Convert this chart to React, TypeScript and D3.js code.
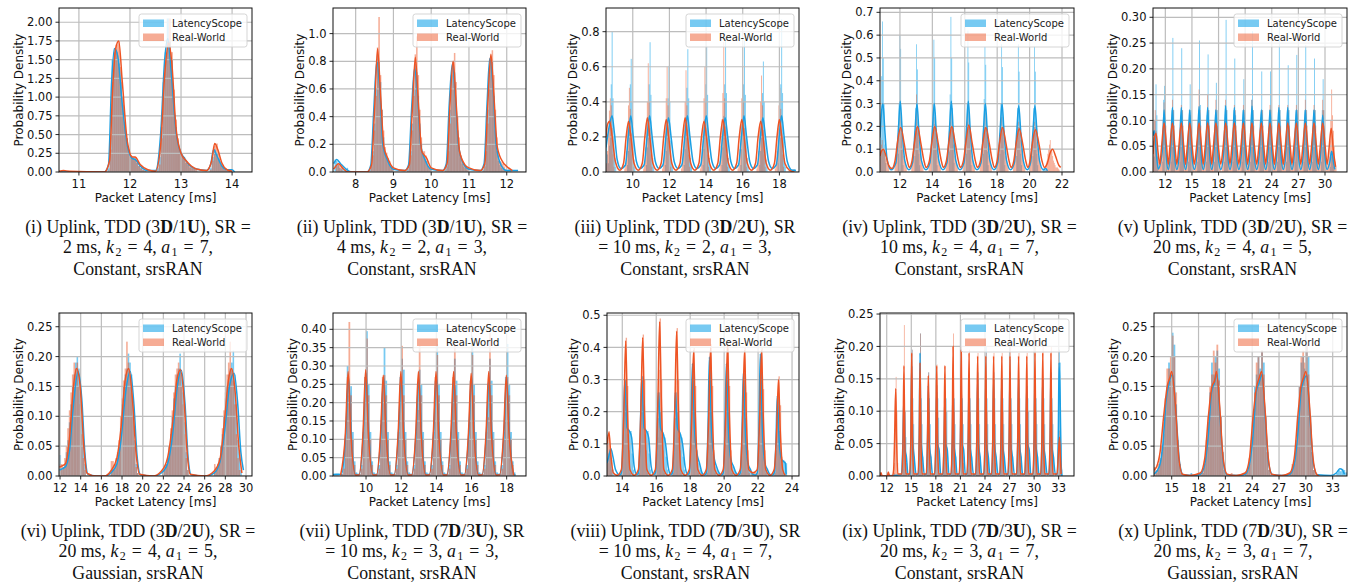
import React from 'react';
import * as d3 from 'd3';

// bars: [startX, h0, h1, ...] with panel bin width; kde: flat [x0, y0, x1, y1, ...]
type Cluster = number[];

const LS_FILL = '#1ca6ea';
const RW_FILL = '#ee5a2c';
const LS_LINE = '#1a9fe3';
const RW_LINE = '#ee5424';
const SANS = 'DejaVu Sans, Verdana, sans-serif';
const SERIF = 'Liberation Serif, Times New Roman, serif';

const seriesNames = ['LatencyScope', 'Real-World'];

// ---------------- (i)
const p1XTicks = [11, 12, 13, 14];
const p1YTicks = [0, 0.25, 0.5, 0.75, 1, 1.25, 1.5, 1.75, 2];
const p1LsBars: Cluster[] = [
  [11.56, .05, .5, 1.5, 1.65, 1.6, 1.45, 1.2, .9, .6, .45, .3, .2, .18, .17, .12, .08, .05, .03, .02],
  [12.52, .05, .2, .6, 1.2, 1.6, 2.05, 1.75, 1.5, 1.0, .6, .4, .3, .22, .2, .12, .1, .06, .05, .04, .02],
  [13.56, .05, .2, .3, .25, .18, .1, .06, .03, .02, .02, .03],
];
const p1RwBars: Cluster[] = [
  [10.64, .02, 0, 0, .02],
  [11.56, .02, .3, 1.2, 1.6, 1.7, 1.75, 1.4, 1.0, .65, .45, .3, .2, .2, .2, .15, .08, .05, .03, .02],
  [12.52, .02, .1, .45, 1.0, 1.5, 1.75, 2.05, 1.6, 1.1, .7, .45, .3, .25, .2, .15, .12, .08, .08, .05, .03],
  [13.56, .03, .15, .35, .38, .25, .15, .08, .04, .02, .01],
];
const p1LsKde = [10.61, 0, 11.5, 0, 11.58, .1, 11.64, 1.2, 11.7, 1.65, 11.76, 1.55, 11.85, .9, 11.95, .35, 12.05, .18, 12.1, .17, 12.2, .08, 12.35, .02, 12.5, .02, 12.6, .5, 12.68, 1.5, 12.74, 1.78, 12.8, 1.4, 12.9, .55, 13.0, .25, 13.05, .2, 13.15, .1, 13.3, .04, 13.5, .02, 13.58, .1, 13.64, .3, 13.7, .22, 13.8, .08, 13.9, .03, 14.0, .03, 14.05, 0];
const p1RwKde = [10.61, .01, 10.7, .02, 10.8, .01, 11.5, 0, 11.6, .15, 11.66, 1.1, 11.72, 1.65, 11.78, 1.75, 11.85, 1.2, 11.95, .4, 12.05, .2, 12.1, .2, 12.2, .1, 12.35, .03, 12.5, .01, 12.6, .35, 12.68, 1.3, 12.76, 1.72, 12.82, 1.45, 12.9, .6, 13.0, .25, 13.1, .15, 13.2, .08, 13.3, .04, 13.5, .02, 13.6, .15, 13.66, .38, 13.72, .3, 13.8, .12, 13.9, .03, 14.0, .01];

// ---------------- (ii)
const p2XTicks = [8, 9, 10, 11, 12];
const p2YTicks = [0, 0.2, 0.4, 0.6, 0.8, 1.0];
const p2LsBars: Cluster[] = [
  [7.44, .09, .08, .05, .03, .02, .03, .01, .02, .03],
  [8.36, .02, .05, .15, .35, .6, .85, .8, .65, .45, .25, .15, .1, .08, .06, .04, .02],
  [9.36, .02, .05, .15, .35, .6, .78, .72, .55, .35, .2, .12, .1, .08, .05, .03, .02],
  [10.36, .02, .06, .2, .45, .7, .8, .72, .5, .3, .18, .1, .06, .04, .03, .02, .01],
  [11.36, .02, .06, .2, .45, .7, .84, .8, .55, .3, .15, .08, .05, .03, .02, .02, .01, .01, .02, .01],
];
const p2RwBars: Cluster[] = [
  [7.48, .04, .06, .05, .03, .01],
  [8.36, .01, .04, .12, .3, .55, .9, 1.12, .7, .45, .3, .18, .14, .1, .08, .05, .02],
  [9.36, .01, .04, .12, .3, .55, .85, .98, .7, .45, .25, .15, .15, .12, .08, .04, .02],
  [10.36, .01, .04, .15, .35, .6, .8, .86, .65, .4, .25, .12, .08, .06, .05, .03, .02],
  [11.36, .01, .04, .15, .35, .6, .82, .88, .7, .45, .25, .12, .08, .07, .06, .04, .02],
];
const p2LsKde = [7.42, .06, 7.5, .09, 7.6, .06, 7.75, .02, 7.9, 0, 8.3, 0, 8.4, .05, 8.48, .45, 8.56, .8, 8.64, .6, 8.72, .2, 8.85, .08, 9.0, .02, 9.3, .01, 9.4, .05, 9.48, .45, 9.56, .75, 9.64, .55, 9.72, .2, 9.85, .08, 10.0, .02, 10.3, .01, 10.4, .06, 10.48, .5, 10.56, .78, 10.64, .55, 10.72, .2, 10.85, .06, 11.0, .02, 11.3, .01, 11.4, .06, 11.48, .5, 11.55, .82, 11.64, .6, 11.72, .2, 11.85, .05, 12.0, .01, 12.3, .01];
const p2RwKde = [7.42, .02, 7.55, .06, 7.65, .03, 7.8, 0, 8.3, 0, 8.42, .05, 8.5, .45, 8.58, .89, 8.66, .55, 8.75, .18, 8.85, .1, 9.0, .03, 9.3, .01, 9.42, .05, 9.5, .45, 9.58, .83, 9.66, .5, 9.75, .15, 9.88, .1, 10.0, .03, 10.3, .01, 10.42, .06, 10.5, .5, 10.58, .8, 10.66, .5, 10.75, .15, 10.9, .05, 11.0, .03, 11.3, .01, 11.42, .06, 11.5, .5, 11.58, .85, 11.66, .55, 11.75, .18, 11.9, .07, 12.0, .04, 12.15, .01];

// ---------------- (iii)
const p3XTicks = [10, 12, 14, 16, 18];
const p3YTicks = [0, 0.2, 0.4, 0.6, 0.8];
const p3LsBars: Cluster[] = [
  [8.55, .2, .1],
  [8.65, .05, .15, .3, .5, .8, .42, .2, .08, .03],
  [9.69, .04, .12, .28, .5, .645, .4, .18, .07, .03],
  [10.72, .04, .14, .3, .5, .74, .44, .2, .08, .03],
  [11.75, .04, .12, .28, .42, .605, .4, .18, .07, .03],
  [12.78, .04, .13, .3, .48, .7, .42, .2, .08, .03],
  [13.81, .04, .13, .3, .5, .72, .44, .2, .08, .03],
  [14.84, .04, .14, .32, .5, .77, .45, .2, .08, .03],
  [15.87, .04, .13, .3, .5, .75, .44, .2, .08, .03],
  [16.9, .04, .12, .28, .45, .63, .4, .18, .07, .03],
  [17.9, .05, .15, .32, .5, .87, .45, .2, .08, .03],
  [18.6, .015, .01, .015, .01, .015, .01],
];
const p3RwBars: Cluster[] = [
  [8.5, .02, .05, .12, .25, .35, .42, .38, .25, .1, .03],
  [9.54, .02, .05, .12, .25, .38, .48, .36, .22, .1, .03],
  [10.57, .02, .05, .14, .28, .4, .62, .4, .25, .1, .03],
  [11.6, .02, .05, .13, .27, .42, .6, .38, .24, .1, .03],
  [12.63, .02, .05, .13, .27, .4, .58, .38, .24, .1, .03],
  [13.66, .02, .05, .13, .27, .42, .6, .4, .25, .1, .03],
  [14.69, .02, .06, .15, .3, .45, .74, .42, .26, .1, .03],
  [15.72, .02, .05, .13, .27, .42, .6, .4, .25, .1, .03],
  [16.75, .02, .05, .12, .26, .4, .55, .38, .24, .1, .03],
  [17.75, .02, .05, .12, .25, .38, .48, .36, .22, .1, .03],
  [18.5, .01, .01, .015, .01, .01, .015, .01],
];
const p3LsKde = [8.54, .14, 8.7, .25, 8.87, .32, 9.0, .22, 9.15, .07, 9.35, .02, 9.6, .04, 9.75, .2, 9.89, .32, 10.03, .2, 10.2, .06, 10.4, .02, 10.62, .04, 10.78, .2, 10.92, .32, 11.06, .2, 11.23, .06, 11.43, .02, 11.65, .04, 11.81, .2, 11.95, .31, 12.09, .2, 12.26, .06, 12.46, .02, 12.68, .04, 12.84, .2, 12.98, .32, 13.12, .2, 13.29, .06, 13.49, .02, 13.71, .04, 13.87, .2, 14.01, .32, 14.15, .2, 14.32, .06, 14.52, .02, 14.74, .04, 14.9, .2, 15.04, .31, 15.18, .2, 15.35, .06, 15.55, .02, 15.77, .04, 15.93, .2, 16.07, .32, 16.21, .2, 16.38, .06, 16.58, .02, 16.8, .04, 16.96, .2, 17.1, .31, 17.24, .2, 17.41, .06, 17.61, .02, 17.83, .04, 17.99, .2, 18.12, .32, 18.26, .2, 18.43, .06, 18.7, .01, 18.9, .01];
const p3RwKde = [8.54, .2, 8.62, .27, 8.74, .29, 8.88, .2, 9.05, .06, 9.3, .01, 9.5, .05, 9.64, .2, 9.77, .29, 9.9, .2, 10.07, .05, 10.3, .01, 10.52, .05, 10.66, .2, 10.8, .31, 10.93, .2, 11.1, .05, 11.33, .01, 11.55, .05, 11.69, .2, 11.83, .3, 11.96, .2, 12.13, .05, 12.36, .01, 12.58, .05, 12.72, .2, 12.86, .31, 12.99, .2, 13.16, .05, 13.39, .01, 13.61, .05, 13.75, .2, 13.89, .29, 14.02, .2, 14.19, .05, 14.42, .01, 14.64, .05, 14.78, .2, 14.92, .3, 15.05, .2, 15.22, .05, 15.45, .01, 15.67, .05, 15.81, .2, 15.95, .3, 16.08, .2, 16.25, .05, 16.48, .01, 16.7, .05, 16.84, .2, 16.98, .29, 17.11, .2, 17.28, .05, 17.51, .01, 17.73, .05, 17.87, .2, 18.0, .3, 18.13, .2, 18.3, .05, 18.55, .01, 18.8, 0];

// ---------------- (iv)
const p4XTicks = [12, 14, 16, 18, 20, 22];
const p4YTicks = [0, 0.1, 0.2, 0.3, 0.4, 0.5, 0.6, 0.7];
const p4LsBars: Cluster[] = [
  [10.8, .15, .42, .66, .5, .3, .12, .04],
  [11.87, .08, .3, .6, .54, .25, .1, .03],
  [12.9, .07, .28, .56, .45, .22, .08, .03],
  [13.97, .08, .3, .58, .5, .26, .1, .03],
  [15.02, .09, .34, .68, .5, .28, .12, .04],
  [16.07, .08, .3, .62, .48, .25, .1, .03],
  [17.12, .08, .32, .55, .47, .25, .09, .03],
  [18.15, .08, .3, .56, .46, .24, .09, .03],
  [19.18, .07, .28, .56, .44, .22, .08, .03],
  [20.18, .07, .28, .55, .44, .22, .08, .03],
  [20.8, .01, .015, .02, .01],
];
const p4RwBars: Cluster[] = [
  [10.78, .1, .12, .14, .1, .09, .08, .06, .05, .04, .03, .02],
  [11.67, .03, .05, .08, .12, .17, .2, .24, .2, .17, .14, .1, .07, .05, .03, .02],
  [12.7, .03, .05, .08, .12, .18, .22, .34, .2, .17, .14, .1, .07, .05, .03, .02],
  [13.77, .03, .05, .08, .12, .17, .2, .24, .21, .17, .14, .1, .07, .05, .03, .02],
  [14.82, .03, .05, .08, .13, .18, .22, .26, .2, .18, .14, .1, .07, .05, .03, .02],
  [15.87, .03, .05, .08, .13, .18, .22, .3, .21, .18, .14, .1, .07, .05, .03, .02],
  [16.92, .03, .05, .08, .12, .17, .2, .26, .2, .17, .14, .1, .07, .05, .03, .02],
  [17.95, .03, .05, .08, .12, .17, .2, .24, .2, .17, .14, .1, .07, .05, .03, .02],
  [18.98, .03, .05, .08, .12, .17, .2, .22, .2, .17, .14, .1, .07, .05, .03, .02],
  [19.98, .03, .05, .08, .12, .16, .19, .22, .2, .17, .13, .1, .07, .05, .03, .02],
  [21.0, .03, .05, .08, .1, .12, .14, .1, .09, .07, .05, .04, .03, .02, .02, .02, .015, .01],
];
const p4LsKde = [10.77, .15, 10.85, .25, 10.95, .3, 11.07, .18, 11.2, .06, 11.45, .01, 11.75, .04, 11.9, .18, 12.02, .31, 12.14, .18, 12.3, .05, 12.55, .01, 12.78, .04, 12.93, .18, 13.05, .3, 13.17, .18, 13.33, .05, 13.6, .01, 13.85, .04, 14.0, .18, 14.12, .3, 14.24, .18, 14.4, .05, 14.65, .01, 14.9, .04, 15.05, .18, 15.17, .31, 15.29, .18, 15.45, .05, 15.7, .01, 15.95, .04, 16.1, .18, 16.22, .31, 16.34, .18, 16.5, .05, 16.75, .01, 17.0, .04, 17.15, .18, 17.27, .3, 17.39, .18, 17.55, .05, 17.8, .01, 18.03, .04, 18.18, .18, 18.3, .3, 18.42, .18, 18.58, .05, 18.82, .01, 19.06, .04, 19.21, .18, 19.33, .29, 19.45, .18, 19.61, .05, 19.85, .01, 20.06, .04, 20.21, .18, 20.33, .29, 20.45, .18, 20.61, .05, 20.85, .01, 21.0, .015, 21.1, .005];
const p4RwKde = [10.77, .07, 10.85, .09, 10.97, .1, 11.1, .08, 11.3, .03, 11.5, .015, 11.7, .05, 11.85, .13, 12.05, .195, 12.25, .13, 12.45, .05, 12.58, .02, 12.75, .05, 12.9, .13, 13.08, .2, 13.28, .13, 13.48, .05, 13.62, .02, 13.82, .05, 13.97, .13, 14.15, .2, 14.35, .13, 14.55, .05, 14.68, .02, 14.87, .05, 15.02, .13, 15.2, .2, 15.4, .13, 15.6, .05, 15.73, .02, 15.92, .05, 16.07, .13, 16.25, .205, 16.45, .13, 16.65, .05, 16.78, .02, 16.97, .05, 17.12, .13, 17.3, .195, 17.5, .13, 17.7, .05, 17.83, .02, 18.0, .05, 18.15, .13, 18.33, .195, 18.53, .13, 18.73, .05, 18.86, .02, 19.03, .05, 19.18, .13, 19.36, .19, 19.56, .13, 19.76, .05, 19.89, .02, 20.03, .05, 20.18, .13, 20.36, .185, 20.56, .13, 20.76, .05, 20.92, .02, 21.1, .04, 21.25, .08, 21.42, .1, 21.6, .07, 21.8, .03, 21.92, .02];

// ---------------- (v)
const p5XTicks = [12, 15, 18, 21, 24, 27, 30];
const p5YTicks = [0, 0.05, 0.1, 0.15, 0.2, 0.25, 0.3];
const p5LsBars: Cluster[] = [
  [10.7, .03, .1, .17, .11, .03], [11.66, .02, .14, .167, .1, .03], [12.6, .02, .12, .26, .12, .03],
  [13.6, .02, .11, .24, .12, .03], [14.55, .02, .12, .17, .12, .03], [15.6, .02, .12, .255, .13, .03],
  [16.57, .02, .11, .228, .12, .03], [17.5, .02, .12, .173, .12, .03], [18.6, .02, .13, .295, .12, .03],
  [19.58, .02, .12, .22, .11, .03], [20.6, .02, .12, .18, .12, .03], [21.57, .02, .14, .273, .12, .03],
  [22.62, .02, .1, .195, .12, .03], [23.6, .02, .12, .195, .12, .03], [24.6, .02, .12, .29, .12, .03],
  [25.6, .02, .12, .207, .12, .03], [26.57, .02, .12, .227, .12, .03], [27.58, .02, .12, .246, .12, .03],
  [28.56, .02, .12, .22, .12, .03], [29.54, .02, .12, .18, .12, .03], [30.55, .01, .03, .04, .03, .01],
];
const p5RwBars: Cluster[] = [
  [10.61, .06, .1, .12, .08, .05, .03, .02, .015],
  [11.41, .015, .03, .06, .1, .135, .12, .09, .05, .025, .015],
  [12.35, .015, .03, .06, .1, .14, .12, .09, .05, .025, .015],
  [13.35, .015, .03, .06, .1, .13, .12, .09, .05, .025, .015],
  [14.3, .015, .03, .06, .1, .12, .11, .09, .05, .025, .015],
  [15.35, .015, .03, .06, .1, .16, .12, .09, .05, .025, .015],
  [16.32, .015, .03, .06, .1, .15, .12, .09, .05, .025, .015],
  [17.25, .015, .03, .06, .1, .14, .12, .09, .05, .025, .015],
  [18.35, .015, .03, .06, .1, .14, .12, .09, .05, .025, .015],
  [19.33, .015, .03, .06, .1, .13, .12, .09, .05, .025, .015],
  [20.35, .015, .03, .06, .1, .13, .12, .09, .05, .025, .015],
  [21.32, .015, .03, .06, .1, .14, .12, .09, .05, .025, .015],
  [22.37, .015, .03, .06, .1, .12, .12, .09, .05, .025, .015],
  [23.35, .015, .03, .06, .1, .13, .12, .09, .05, .025, .015],
  [24.35, .015, .03, .06, .1, .13, .12, .09, .05, .025, .015],
  [25.35, .015, .03, .06, .1, .13, .12, .09, .05, .025, .015],
  [26.32, .015, .03, .06, .1, .13, .12, .09, .05, .025, .015],
  [27.33, .015, .03, .06, .1, .14, .12, .09, .05, .025, .015],
  [28.31, .015, .03, .06, .1, .13, .12, .09, .05, .025, .015],
  [29.29, .015, .03, .06, .1, .14, .12, .09, .05, .025, .015],
  [30.3, .015, .03, .06, .1, .16, .11, .08, .05, .02, .01],
];
const p5LsKde = [10.61, .07, 10.75, .08, 10.92, .05, 11.2, .006, 11.65, .04, 11.86, .12, 12.07, .04, 12.33, .005, 12.59, .04, 12.8, .125, 13.01, .04, 13.3, .005, 13.59, .04, 13.8, .125, 14.01, .04, 14.28, .005, 14.54, .04, 14.75, .12, 14.96, .04, 15.27, .005, 15.59, .04, 15.8, .127, 16.01, .04, 16.28, .005, 16.56, .04, 16.77, .125, 16.98, .04, 17.23, .005, 17.49, .04, 17.7, .12, 17.91, .04, 18.25, .005, 18.59, .04, 18.8, .128, 19.01, .04, 19.29, .005, 19.57, .04, 19.78, .125, 19.99, .04, 20.29, .005, 20.59, .04, 20.8, .12, 21.01, .04, 21.28, .005, 21.56, .04, 21.77, .128, 21.98, .04, 22.3, .005, 22.61, .04, 22.82, .12, 23.03, .04, 23.31, .005, 23.59, .04, 23.8, .12, 24.01, .04, 24.3, .005, 24.59, .04, 24.8, .125, 25.01, .04, 25.3, .005, 25.59, .04, 25.8, .125, 26.01, .04, 26.28, .005, 26.56, .04, 26.77, .12, 26.98, .04, 27.27, .005, 27.57, .04, 27.78, .12, 27.99, .04, 28.27, .005, 28.55, .04, 28.76, .12, 28.97, .04, 29.25, .005, 29.53, .04, 29.74, .11, 29.95, .04, 30.24, .005, 30.55, .02, 30.75, .04, 30.95, .02, 31.1, .005];
const p5RwKde = [10.61, .035, 10.8, .07, 10.95, .075, 11.2, .035, 11.38, .015, 11.56, .045, 11.86, .095, 12.16, .045, 12.33, .015, 12.5, .045, 12.8, .095, 13.1, .045, 13.3, .015, 13.5, .045, 13.8, .095, 14.1, .045, 14.28, .015, 14.45, .045, 14.75, .095, 15.05, .045, 15.27, .015, 15.5, .045, 15.8, .095, 16.1, .045, 16.28, .015, 16.47, .045, 16.77, .095, 17.07, .045, 17.23, .015, 17.4, .045, 17.7, .095, 18.0, .045, 18.25, .015, 18.5, .045, 18.8, .095, 19.1, .045, 19.29, .015, 19.48, .045, 19.78, .095, 20.08, .045, 20.29, .015, 20.5, .045, 20.8, .095, 21.1, .045, 21.28, .015, 21.47, .045, 21.77, .095, 22.07, .045, 22.3, .015, 22.52, .045, 22.82, .095, 23.12, .045, 23.31, .015, 23.5, .045, 23.8, .095, 24.1, .045, 24.3, .015, 24.5, .045, 24.8, .095, 25.1, .045, 25.3, .015, 25.5, .045, 25.8, .095, 26.1, .045, 26.28, .015, 26.47, .045, 26.77, .095, 27.07, .045, 27.27, .015, 27.48, .045, 27.78, .095, 28.08, .045, 28.27, .015, 28.46, .045, 28.76, .095, 29.06, .045, 29.25, .015, 29.44, .045, 29.74, .095, 30.04, .045, 30.24, .015, 30.45, .045, 30.7, .085, 30.95, .04, 31.2, .01];

// ---------------- (vi)
const p6XTicks = [12, 14, 16, 18, 20, 22, 24, 26, 28, 30];
const p6YTicks = [0, 0.05, 0.1, 0.15, 0.2, 0.25];
const p6LsBars: Cluster[] = [
  [11.95, .035, .01, .015, .02, .04, .06, .09, .12, .15, .17, .19, .2, .18, .14, .1, .05, .02],
  [16.9, .005, .01, .01, .02, .03, .05, .08, .12, .15, .17, .18, .205, .19, .17, .12, .06, .02, .005],
  [21.9, .005, .01, .02, .03, .05, .07, .1, .13, .15, .17, .18, .205, .17, .14, .09, .04, .01],
  [26.9, .005, .01, .015, .03, .05, .07, .1, .13, .15, .17, .18, .19, .21, .17, .12, .06, .04, .01],
];
const p6RwBars: Cluster[] = [
  [11.95, .02, .02, .015, .03, .05, .08, .11, .14, .17, .19, .18, .19, .15, .12, .07, .03, .01],
  [16.9, .025, .025, .02, .03, .04, .06, .1, .13, .16, .18, .225, .19, .17, .14, .1, .05, .015, .005],
  [21.9, .01, .015, .02, .03, .05, .08, .11, .14, .17, .18, .19, .18, .15, .12, .07, .03, .01],
  [26.9, .02, .015, .02, .03, .05, .08, .11, .14, .17, .19, .225, .18, .16, .12, .07, .03, .01],
];
const p6LsKde = [11.95, .01, 12.5, .015, 12.9, .04, 13.3, .12, 13.75, .175, 14.1, .13, 14.4, .04, 14.7, .003, 15.5, 0, 16.3, 0, 16.9, .005, 17.5, .02, 17.9, .06, 18.35, .14, 18.8, .175, 19.15, .12, 19.45, .035, 19.8, .002, 21, 0, 21.8, .005, 22.4, .02, 22.9, .07, 23.35, .15, 23.75, .177, 24.1, .12, 24.4, .03, 24.7, .002, 26, 0, 26.9, .005, 27.5, .025, 27.9, .07, 28.4, .15, 28.85, .172, 29.2, .12, 29.5, .04, 29.75, .01];
const p6RwKde = [11.95, .015, 12.5, .02, 12.9, .06, 13.3, .15, 13.6, .18, 13.95, .15, 14.3, .05, 14.6, .005, 15.5, 0, 16.3, 0, 16.9, .008, 17.5, .03, 17.9, .08, 18.3, .16, 18.65, .18, 19.0, .13, 19.35, .04, 19.7, .003, 21, 0, 21.8, .008, 22.4, .03, 22.9, .09, 23.3, .16, 23.65, .178, 24.0, .13, 24.3, .04, 24.6, .003, 26, 0, 26.9, .008, 27.5, .03, 27.9, .09, 28.3, .16, 28.6, .18, 28.95, .14, 29.3, .05, 29.6, .005];

// ---------------- (vii)
const p7XTicks = [10, 12, 14, 16, 18];
const p7YTicks = [0, 0.05, 0.1, 0.15, 0.2, 0.25, 0.3, 0.35, 0.4];
const p7LsBars: Cluster[] = [
  [8.15, .005, .004, .003],
  [8.6, .005, .06, .15, .3, .22, .245, .12, .04, .01],
  [9.6, .005, .03, .12, .27, .395, .25, .12, .04, .01],
  [10.6, .005, .03, .14, .25, .35, .26, .12, .04, .01],
  [11.6, .005, .03, .12, .27, .32, .29, .12, .04, .01],
  [12.6, .005, .03, .12, .24, .29, .25, .12, .04, .01],
  [13.6, .005, .03, .12, .26, .36, .25, .12, .04, .01],
  [14.6, .005, .03, .12, .25, .32, .26, .12, .04, .01],
  [15.6, .005, .03, .14, .26, .38, .25, .12, .04, .01],
  [16.6, .005, .03, .12, .25, .32, .26, .12, .04, .01],
  [17.6, .005, .03, .12, .27, .36, .25, .12, .04, .01],
];
const p7RwBars: Cluster[] = [
  [8.6, .005, .02, .1, .27, .42, .22, .1, .03, .005],
  [9.6, .005, .02, .1, .27, .375, .22, .1, .03, .005],
  [10.6, .005, .02, .1, .27, .275, .22, .1, .03, .005],
  [11.6, .005, .02, .1, .25, .355, .22, .1, .03, .005],
  [12.6, .005, .02, .1, .18, .355, .22, .1, .03, .005],
  [13.6, .005, .02, .1, .27, .33, .22, .1, .03, .005],
  [14.6, .005, .02, .1, .27, .36, .22, .1, .03, .005],
  [15.6, .005, .02, .1, .26, .33, .22, .1, .03, .005],
  [16.6, .005, .02, .1, .16, .39, .22, .1, .03, .005],
  [17.6, .005, .02, .1, .25, .27, .22, .1, .03, .005],
];
const p7LsKde = [8.12, .004, 8.3, .005, 8.6, .004, 8.85, .12, 9.0, .27, 9.15, .12, 9.4, .004, 9.6, .004, 9.85, .12, 10.0, .28, 10.15, .12, 10.4, .004, 10.6, .004, 10.85, .12, 11.0, .27, 11.15, .12, 11.4, .004, 11.6, .004, 11.85, .12, 12.0, .27, 12.15, .12, 12.4, .004, 12.6, .004, 12.85, .12, 13.0, .265, 13.15, .12, 13.4, .004, 13.6, .004, 13.85, .12, 14.0, .27, 14.15, .12, 14.4, .004, 14.6, .004, 14.85, .12, 15.0, .265, 15.15, .12, 15.4, .004, 15.6, .004, 15.85, .12, 16.0, .27, 16.15, .12, 16.4, .004, 16.6, .004, 16.85, .12, 17.0, .27, 17.15, .12, 17.4, .004, 17.6, .004, 17.85, .12, 18.0, .27, 18.15, .12, 18.4, .006, 18.5, .002];
const p7RwKde = [8.55, .002, 8.83, .12, 8.98, .285, 9.13, .12, 9.4, .003, 9.6, .003, 9.83, .12, 9.98, .29, 10.13, .12, 10.4, .003, 10.6, .003, 10.83, .12, 10.98, .275, 11.13, .12, 11.4, .003, 11.6, .003, 11.83, .12, 11.98, .285, 12.13, .12, 12.4, .003, 12.6, .003, 12.83, .12, 12.98, .285, 13.13, .12, 13.4, .003, 13.6, .003, 13.83, .12, 13.98, .285, 14.13, .12, 14.4, .003, 14.6, .003, 14.83, .12, 14.98, .285, 15.13, .12, 15.4, .003, 15.6, .003, 15.83, .12, 15.98, .28, 16.13, .12, 16.4, .003, 16.6, .003, 16.83, .12, 16.98, .285, 17.13, .12, 17.4, .003, 17.6, .003, 17.83, .12, 17.98, .275, 18.13, .12, 18.4, .002];

// ---------------- (viii)
const p8XTicks = [14, 16, 18, 20, 22, 24];
const p8YTicks = [0, 0.1, 0.2, 0.3, 0.4, 0.5];
const p8LsBars: Cluster[] = [
  [13.1, .04, .07, .085, .05, .02],
  [13.91, .01, .08, .2, .3, .22, .13, .14, .14, .07, .02],
  [14.91, .01, .08, .2, .31, .22, .13, .14, .14, .07, .02],
  [15.91, .01, .07, .18, .26, .2, .12, .13, .12, .06, .02],
  [16.91, .01, .07, .18, .26, .2, .12, .13, .12, .06, .02],
  [17.91, .01, .1, .24, .35, .2, .08, .06, .04, .02, .01],
  [18.91, .01, .1, .25, .37, .2, .07, .05, .03, .02, .01],
  [19.91, .01, .1, .24, .35, .2, .07, .05, .03, .02, .01],
  [20.91, .01, .09, .22, .32, .18, .06, .04, .02, .01, .005],
  [21.91, .01, .1, .26, .38, .2, .06, .04, .02, .01, .005],
  [22.91, .01, .07, .17, .25, .14, .06, .05, .05, .045, .04],
];
const p8RwBars: Cluster[] = [
  [13.1, .12, .14, .08, .02],
  [13.96, .01, .1, .3, .43, .28, .08, .01],
  [14.96, .01, .1, .3, .44, .3, .08, .01],
  [15.96, .01, .12, .33, .49, .3, .08, .01],
  [16.96, .01, .1, .3, .46, .3, .08, .01],
  [17.96, .01, .1, .28, .4, .28, .08, .01],
  [18.96, .01, .1, .28, .41, .28, .08, .01],
  [19.96, .01, .1, .28, .42, .28, .08, .01],
  [20.96, .01, .1, .28, .4, .26, .08, .01],
  [21.6, .01, .01, .01, .01, .005],
  [21.96, .01, .1, .28, .4, .27, .08, .01],
  [22.96, .01, .08, .2, .31, .22, .06, .01],
];
const p8LsKde = [13.1, .04, 13.2, .06, 13.33, .085, 13.45, .06, 13.6, .02, 13.85, .003, 13.95, .01, 14.05, .12, 14.15, .3, 14.28, .15, 14.42, .14, 14.55, .12, 14.7, .03, 14.85, .005, 14.95, .01, 15.05, .12, 15.15, .31, 15.28, .15, 15.42, .14, 15.55, .12, 15.7, .03, 15.85, .005, 15.95, .01, 16.05, .11, 16.12, .26, 16.25, .15, 16.42, .13, 16.55, .1, 16.7, .03, 16.85, .005, 16.95, .01, 17.05, .11, 17.12, .26, 17.25, .15, 17.42, .13, 17.55, .1, 17.7, .03, 17.85, .005, 17.95, .01, 18.05, .15, 18.13, .35, 18.25, .15, 18.4, .07, 18.55, .04, 18.7, .01, 18.85, .003, 18.95, .01, 19.05, .15, 19.13, .37, 19.25, .15, 19.4, .06, 19.55, .03, 19.7, .01, 19.85, .003, 19.95, .01, 20.05, .15, 20.13, .35, 20.25, .15, 20.4, .05, 20.55, .03, 20.7, .01, 20.85, .003, 20.95, .01, 21.05, .13, 21.13, .32, 21.25, .14, 21.4, .04, 21.55, .02, 21.7, .005, 21.85, .003, 21.95, .01, 22.05, .15, 22.13, .38, 22.25, .15, 22.4, .04, 22.55, .02, 22.7, .005, 22.85, .003, 22.95, .01, 23.05, .1, 23.13, .25, 23.25, .1, 23.4, .05, 23.5, .045, 23.6, .04, 23.65, .005];
const p8RwKde = [13.1, .1, 13.22, .135, 13.32, .07, 13.47, .01, 13.7, .002, 13.95, .02, 14.1, .21, 14.2, .42, 14.3, .21, 14.45, .02, 14.7, .002, 14.95, .02, 15.1, .215, 15.2, .43, 15.3, .215, 15.45, .02, 15.7, .002, 15.95, .02, 16.1, .24, 16.2, .48, 16.3, .24, 16.45, .02, 16.7, .002, 16.95, .02, 17.1, .225, 17.2, .45, 17.3, .225, 17.45, .02, 17.7, .002, 17.95, .02, 18.1, .195, 18.2, .39, 18.3, .195, 18.45, .02, 18.7, .002, 18.95, .02, 19.1, .2, 19.2, .4, 19.3, .2, 19.45, .02, 19.7, .002, 19.95, .02, 20.1, .205, 20.2, .41, 20.3, .205, 20.45, .02, 20.7, .002, 20.95, .02, 21.1, .195, 21.2, .39, 21.3, .195, 21.45, .02, 21.7, .01, 21.95, .02, 22.1, .195, 22.2, .39, 22.3, .195, 22.45, .02, 22.7, .002, 22.95, .02, 23.1, .15, 23.2, .3, 23.3, .15, 23.45, .02, 23.6, .002];

// ---------------- (ix)
const p9XTicks = [12, 15, 18, 21, 24, 27, 30, 33];
const p9YTicks = [0, 0.05, 0.1, 0.15, 0.2, 0.25];
const p9LsBars: Cluster[] = [
  [13.9, .01, .1, .13, .1, .06, .02], [14.85, .01, .12, .195, .12, .08, .03], [15.87, .01, .12, .22, .12, .08, .03],
  [16.88, .01, .1, .16, .12, .08, .03], [17.9, .01, .1, .14, .12, .09, .03], [18.9, .01, .1, .13, .12, .1, .03],
  [19.9, .01, .1, .15, .12, .08, .03], [20.9, .01, .1, .15, .12, .08, .03], [21.85, .01, .1, .15, .12, .08, .03],
  [22.9, .01, .1, .16, .12, .08, .03], [23.9, .01, .1, .2, .12, .08, .03], [24.85, .01, .1, .16, .12, .08, .03],
  [25.85, .01, .1, .15, .12, .08, .03], [26.85, .01, .1, .18, .12, .08, .03], [27.9, .01, .1, .15, .12, .08, .03],
  [28.9, .01, .1, .13, .12, .1, .03], [29.9, .01, .1, .15, .12, .08, .03], [30.85, .01, .1, .15, .12, .08, .03],
  [31.85, .01, .1, .16, .12, .08, .03], [32.85, .01, .05, .195, .175, .05, .01],
];
const p9RwBars: Cluster[] = [
  [11.25, .005], [12.15, .006, .003], [12.8, .01, .005],
  [12.9, .02, .12, .153, .1, .02], [13.9, .02, .12, .233, .1, .02], [14.85, .02, .12, .195, .1, .02],
  [15.87, .02, .12, .22, .1, .02], [16.88, .02, .12, .16, .1, .02], [17.9, .02, .12, .172, .1, .02],
  [18.9, .02, .12, .17, .1, .02], [19.9, .02, .12, .22, .1, .02], [20.9, .02, .12, .2, .1, .02],
  [21.85, .02, .12, .195, .1, .02], [22.9, .02, .12, .19, .1, .02], [23.9, .02, .12, .19, .1, .02],
  [24.85, .02, .12, .19, .1, .02], [25.85, .02, .12, .19, .1, .02], [26.85, .02, .12, .2, .1, .02],
  [27.9, .02, .12, .19, .1, .02], [28.9, .02, .12, .19, .1, .02], [29.9, .02, .12, .22, .1, .02],
  [30.85, .02, .12, .2, .1, .02], [31.85, .02, .12, .2, .1, .02], [32.85, .02, .04, .07, .05, .01],
];
const p9LsKde = [11.18, 0, 13.8, .002, 13.95, .04, 14.1, .12, 14.25, .04, 14.4, .03, 14.6, .002, 14.85, .003, 14.95, .06, 15.05, .17, 15.15, .06, 15.35, .03, 15.6, .002, 15.85, .003, 15.97, .06, 16.07, .19, 16.17, .06, 16.37, .03, 16.6, .002, 16.85, .003, 16.98, .05, 17.08, .14, 17.18, .05, 17.38, .03, 17.6, .002, 17.85, .003, 18.0, .05, 18.1, .13, 18.2, .05, 18.4, .04, 18.6, .002, 18.85, .003, 19.0, .05, 19.1, .12, 19.2, .05, 19.4, .04, 19.6, .002, 19.85, .003, 20.0, .05, 20.1, .14, 20.2, .05, 20.4, .03, 20.6, .002, 20.85, .003, 21.0, .05, 21.1, .14, 21.2, .05, 21.4, .04, 21.6, .002, 21.8, .003, 21.95, .05, 22.05, .14, 22.15, .05, 22.35, .03, 22.6, .002, 22.85, .003, 23.0, .05, 23.1, .15, 23.2, .05, 23.4, .03, 23.6, .002, 23.85, .003, 24.0, .05, 24.1, .15, 24.2, .05, 24.4, .03, 24.6, .002, 24.8, .003, 24.95, .05, 25.05, .15, 25.15, .05, 25.35, .03, 25.6, .002, 25.8, .003, 25.95, .05, 26.05, .15, 26.15, .05, 26.35, .03, 26.6, .002, 26.8, .003, 26.95, .05, 27.05, .16, 27.15, .05, 27.35, .03, 27.6, .002, 27.85, .003, 28.0, .05, 28.1, .15, 28.2, .05, 28.4, .03, 28.6, .002, 28.85, .003, 29.0, .05, 29.1, .14, 29.2, .05, 29.4, .04, 29.6, .002, 29.85, .003, 30.0, .05, 30.1, .15, 30.2, .05, 30.4, .03, 30.6, .002, 30.8, .003, 30.95, .05, 31.05, .15, 31.15, .05, 31.35, .03, 31.6, .002, 31.8, .003, 31.95, .05, 32.05, .16, 32.15, .05, 32.35, .03, 32.6, .002, 32.8, .003, 32.95, .06, 33.05, .175, 33.18, .12, 33.3, .02, 33.4, 0];
const p9RwKde = [11.18, 0, 11.3, .005, 11.45, 0, 12.05, 0, 12.2, .006, 12.35, 0, 12.7, 0, 12.85, .01, 12.95, .05, 13.1, .135, 13.2, .06, 13.35, .003, 13.85, .003, 14.0, .06, 14.1, .17, 14.2, .06, 14.35, .003, 14.8, .003, 14.95, .06, 15.05, .19, 15.15, .06, 15.3, .003, 15.82, .003, 15.97, .06, 16.07, .175, 16.17, .06, 16.32, .003, 16.83, .003, 16.98, .06, 17.08, .155, 17.18, .06, 17.33, .003, 17.85, .003, 18.0, .06, 18.1, .17, 18.2, .06, 18.35, .003, 18.85, .003, 19.0, .06, 19.1, .17, 19.2, .06, 19.35, .003, 19.85, .003, 20.0, .06, 20.1, .2, 20.2, .06, 20.35, .003, 20.85, .003, 21.0, .06, 21.1, .195, 21.2, .06, 21.35, .003, 21.8, .003, 21.95, .06, 22.05, .19, 22.15, .06, 22.3, .003, 22.85, .003, 23.0, .06, 23.1, .185, 23.2, .06, 23.35, .003, 23.85, .003, 24.0, .06, 24.1, .185, 24.2, .06, 24.35, .003, 24.8, .003, 24.95, .06, 25.05, .185, 25.15, .06, 25.3, .003, 25.8, .003, 25.95, .06, 26.05, .185, 26.15, .06, 26.3, .003, 26.8, .003, 26.95, .06, 27.05, .185, 27.15, .06, 27.3, .003, 27.85, .003, 28.0, .06, 28.1, .185, 28.2, .06, 28.35, .003, 28.85, .003, 29.0, .06, 29.1, .185, 29.2, .06, 29.35, .003, 29.85, .003, 30.0, .06, 30.1, .19, 30.2, .06, 30.35, .003, 30.8, .003, 30.95, .06, 31.05, .19, 31.15, .06, 31.3, .003, 31.8, .003, 31.95, .06, 32.05, .19, 32.15, .06, 32.3, .003, 32.8, .003, 32.95, .03, 33.1, .06, 33.2, .03, 33.3, .003];

// ---------------- (x)
const p10XTicks = [15, 18, 21, 24, 27, 30, 33];
const p10YTicks = [0, 0.05, 0.1, 0.15, 0.2, 0.25];
const p10LsBars: Cluster[] = [
  [13.2, .005, .01, .02, .04, .07, .11, .15, .19, .16, .24, .22, .12, .05, .02, .005],
  [17.1, .005],
  [18.2, .002, .005, .02, .05, .09, .14, .19, .17, .2, .21, .18, .1, .04, .01, .002],
  [23.2, .005, .01, .02, .05, .1, .15, .17, .2, .18, .21, .19, .1, .04, .01, .002],
  [28.2, .005, .01, .02, .05, .1, .15, .19, .2, .18, .22, .2, .1, .04, .01, .002],
  [33.4, .005, .01, .008, .012, .01, .006],
];
const p10RwBars: Cluster[] = [
  [13.0, .015],
  [13.2, .01, .02, .03, .05, .09, .13, .18, .18, .2, .235, .2, .14, .06, .02, .005],
  [18.2, .005, .01, .025, .06, .1, .15, .17, .21, .19, .22, .16, .1, .04, .01, .003],
  [21.6, .005],
  [23.2, .005, .01, .03, .06, .1, .14, .19, .2, .17, .21, .17, .1, .04, .01, .003],
  [28.2, .005, .02, .02, .06, .1, .15, .2, .21, .19, .22, .17, .1, .04, .01, .003],
];
const p10LsKde = [13.02, .003, 13.6, .015, 14.0, .05, 14.4, .13, 14.7, .155, 15.1, .17, 15.5, .1, 15.9, .02, 16.3, .002, 17.5, .001, 18.2, .003, 18.7, .02, 19.1, .07, 19.45, .14, 19.75, .155, 20.05, .17, 20.4, .1, 20.8, .02, 21.2, .002, 22.5, .001, 23.2, .003, 23.7, .02, 24.1, .07, 24.45, .14, 24.75, .155, 25.1, .17, 25.45, .1, 25.85, .02, 26.3, .002, 27.5, .001, 28.2, .003, 28.7, .02, 29.1, .07, 29.45, .14, 29.75, .16, 30.1, .168, 30.45, .1, 30.85, .02, 31.3, .002, 32.8, .001, 33.4, .005, 33.8, .012, 34.1, .01, 34.3, .003];
const p10RwKde = [13.02, .01, 13.3, .015, 13.7, .04, 14.1, .1, 14.5, .15, 14.8, .165, 15.0, .175, 15.4, .12, 15.8, .03, 16.2, .003, 17.0, .001, 18.2, .005, 18.7, .03, 19.1, .1, 19.5, .15, 19.8, .16, 20.0, .175, 20.35, .12, 20.75, .03, 21.2, .003, 22.2, .001, 23.2, .005, 23.7, .03, 24.1, .1, 24.5, .15, 24.8, .165, 25.05, .175, 25.4, .12, 25.8, .03, 26.2, .003, 27.3, .001, 28.2, .005, 28.7, .03, 29.1, .1, 29.45, .15, 29.75, .165, 30.0, .175, 30.4, .12, 30.8, .03, 31.2, .003, 31.5, 0];

// ---------------- captions (*bold*, $italic$, _n subscript)
const captions: string[][] = [
  ['(i) Uplink, TDD (3*D*/1*U*), SR =', '2 ms, $k$_2 = 4, $a$_1 = 7,', 'Constant, srsRAN'],
  ['(ii) Uplink, TDD (3*D*/1*U*), SR =', '4 ms, $k$_2 = 2, $a$_1 = 3,', 'Constant, srsRAN'],
  ['(iii) Uplink, TDD (3*D*/2*U*), SR', '= 10 ms, $k$_2 = 2, $a$_1 = 3,', 'Constant, srsRAN'],
  ['(iv) Uplink, TDD (3*D*/2*U*), SR =', '10 ms, $k$_2 = 4, $a$_1 = 7,', 'Constant, srsRAN'],
  ['(v) Uplink, TDD (3*D*/2*U*), SR =', '20 ms, $k$_2 = 4, $a$_1 = 5,', 'Constant, srsRAN'],
  ['(vi) Uplink, TDD (3*D*/2*U*), SR =', '20 ms, $k$_2 = 4, $a$_1 = 5,', 'Gaussian, srsRAN'],
  ['(vii) Uplink, TDD (7*D*/3*U*), SR', '= 10 ms, $k$_2 = 3, $a$_1 = 3,', 'Constant, srsRAN'],
  ['(viii) Uplink, TDD (7*D*/3*U*), SR', '= 10 ms, $k$_2 = 4, $a$_1 = 7,', 'Constant, srsRAN'],
  ['(ix) Uplink, TDD (7*D*/3*U*), SR =', '20 ms, $k$_2 = 3, $a$_1 = 7,', 'Constant, srsRAN'],
  ['(x) Uplink, TDD (7*D*/3*U*), SR =', '20 ms, $k$_2 = 3, $a$_1 = 7,', 'Gaussian, srsRAN'],
];

interface PanelDef {
  left: number; top: number; w: number; h: number;
  xDomain: [number, number]; yMax: number; bin: number; yDigits: number;
  xTicks: number[]; yTicks: number[];
  ls: Cluster[]; rw: Cluster[]; lsKde: number[]; rwKde: number[];
}

const ROW1 = { top: 8, h: 164 };
const ROW2 = { top: 313, h: 163 };

const panels: PanelDef[] = [
  { left: 59, ...ROW1, w: 193, xDomain: [10.61, 14.39], yMax: 2.19, bin: .04, yDigits: 2, xTicks: p1XTicks, yTicks: p1YTicks, ls: p1LsBars, rw: p1RwBars, lsKde: p1LsKde, rwKde: p1RwKde },
  { left: 333, ...ROW1, w: 193, xDomain: [7.4, 12.51], yMax: 1.185, bin: .04, yDigits: 1, xTicks: p2XTicks, yTicks: p2YTicks, ls: p2LsBars, rw: p2RwBars, lsKde: p2LsKde, rwKde: p2RwKde },
  { left: 606, ...ROW1, w: 193, xDomain: [8.54, 19.07], yMax: 0.935, bin: .05, yDigits: 1, xTicks: p3XTicks, yTicks: p3YTicks, ls: p3LsBars, rw: p3RwBars, lsKde: p3LsKde, rwKde: p3RwKde },
  { left: 880, ...ROW1, w: 194, xDomain: [10.77, 22.74], yMax: 0.719, bin: .05, yDigits: 1, xTicks: p4XTicks, yTicks: p4YTicks, ls: p4LsBars, rw: p4RwBars, lsKde: p4LsKde, rwKde: p4RwKde },
  { left: 1153, ...ROW1, w: 194, xDomain: [10.61, 32.48], yMax: 0.318, bin: .1, yDigits: 2, xTicks: p5XTicks, yTicks: p5YTicks, ls: p5LsBars, rw: p5RwBars, lsKde: p5LsKde, rwKde: p5RwKde },
  { left: 59, ...ROW2, w: 193, xDomain: [11.9, 30.58], yMax: 0.273, bin: .15, yDigits: 2, xTicks: p6XTicks, yTicks: p6YTicks, ls: p6LsBars, rw: p6RwBars, lsKde: p6LsKde, rwKde: p6RwKde },
  { left: 333, ...ROW2, w: 193, xDomain: [8.12, 19.1], yMax: 0.4445, bin: .1, yDigits: 2, xTicks: p7XTicks, yTicks: p7YTicks, ls: p7LsBars, rw: p7RwBars, lsKde: p7LsKde, rwKde: p7RwKde },
  { left: 607, ...ROW2, w: 192, xDomain: [13.1, 24.41], yMax: 0.507, bin: .08, yDigits: 1, xTicks: p8XTicks, yTicks: p8YTicks, ls: p8LsBars, rw: p8RwBars, lsKde: p8LsKde, rwKde: p8RwKde },
  { left: 880, ...ROW2, w: 194, xDomain: [11.18, 34.87], yMax: 0.2516, bin: .1, yDigits: 2, xTicks: p9XTicks, yTicks: p9YTicks, ls: p9LsBars, rw: p9RwBars, lsKde: p9LsKde, rwKde: p9RwKde },
  { left: 1154, ...ROW2, w: 193, xDomain: [13.02, 34.6], yMax: 0.273, bin: .2, yDigits: 2, xTicks: p10XTicks, yTicks: p10YTicks, ls: p10LsBars, rw: p10RwBars, lsKde: p10LsKde, rwKde: p10RwKde },
];

const toPairs = (flat: number[]): [number, number][] => {
  const out: [number, number][] = [];
  for (let i = 0; i + 1 < flat.length; i += 2) out.push([flat[i], flat[i + 1]]);
  return out;
};

const CAP_FS = 17.8;
const SUB_FS = 12;
const SUB_DY = 2.8;
const CAP_LINE_OFFSETS = [0, 20, 41.5];

function CaptionLine({ text, x, y }: { text: string; x: number; y: number }) {
  const tokens = text.split(/(\*[^*]+\*|\$[^$]+\$|_\d)/).filter(t => t.length > 0);
  let shifted = false;
  const parts: React.ReactNode[] = [];
  tokens.forEach((t, i) => {
    if (t.startsWith('_')) {
      parts.push(<tspan key={i} fontSize={SUB_FS} dx={1.5} dy={SUB_DY}>{t.slice(1)}</tspan>);
      shifted = true;
      return;
    }
    const dy = shifted ? -SUB_DY : undefined;
    if (shifted && t.startsWith(' = ')) {
      // math relation spacing after a subscript
      const rest = t.slice(3);
      parts.push(<tspan key={`${i}e`} dy={dy} dx={6}>=</tspan>);
      parts.push(<tspan key={`${i}r`} dx={6}>{rest}</tspan>);
      shifted = false;
      return;
    }
    shifted = false;
    if (t.startsWith('*')) parts.push(<tspan key={i} dy={dy} fontWeight="bold">{t.slice(1, -1)}</tspan>);
    else if (t.startsWith('$')) parts.push(<tspan key={i} dy={dy} fontStyle="italic">{t.slice(1, -1)}</tspan>);
    else parts.push(<tspan key={i} dy={dy}>{t}</tspan>);
  });
  return (
    <text x={x} y={y} textAnchor="middle" fontFamily={SERIF} fontSize={CAP_FS} fill="#111" style={{ whiteSpace: 'pre' }}>
      {parts}
    </text>
  );
}

function Panel({ p, idx }: { p: PanelDef; idx: number }) {
  const x = d3.scaleLinear().domain(p.xDomain).range([p.left, p.left + p.w]);
  const y = d3.scaleLinear().domain([0, p.yMax]).range([p.top + p.h, p.top]);
  const bottom = p.top + p.h;
  const right = p.left + p.w;
  const clipId = `clip-${idx}`;
  const line = d3.line<[number, number]>().x(d => x(d[0])).y(d => y(d[1])).curve(d3.curveMonotoneX);

  const bars = (clusters: Cluster[], fill: string, op: number, key: string) =>
    clusters.flatMap(([x0, ...hs], ci) =>
      hs.map((hv, i) => {
        const a = x0 + i * p.bin;
        if (hv <= 0) return null;
        return (
          <rect key={`${key}-${ci}-${i}`} x={x(a)} y={y(hv)} width={Math.max(0.5, x(a + p.bin) - x(a))}
            height={y(0) - y(hv)} fill={fill} fillOpacity={op} />
        );
      })
    );

  const yFmt = d3.format(`.${p.yDigits}f`);
  const tickFs = 11.5;
  const labW = (s: string) => s.split('').reduce((acc, ch) => acc + (ch === '.' ? 0.318 : 0.636), 0) * tickFs;
  const maxLab = d3.max(p.yTicks, t => labW(yFmt(t))) || 0;
  const yLabelX = p.left - 3.5 - 3.5 - maxLab - 3 - 5;
  const midY = p.top + p.h / 2;

  const legW = 108, legH = 33;
  const legX = right - 5 - legW, legY = p.top + 6;
  const capCx = p.left + p.w / 2 - 17.5;
  const capY = bottom + 61;

  return (
    <g>
      <defs>
        <clipPath id={clipId}><rect x={p.left} y={p.top} width={p.w} height={p.h} /></clipPath>
      </defs>
      <g clipPath={`url(#${clipId})`}>
        {bars(p.ls, LS_FILL, 0.6, 'ls')}
        {bars(p.rw, RW_FILL, 0.5, 'rw')}
        {p.xTicks.map(t => <line key={`gx${t}`} x1={x(t)} x2={x(t)} y1={p.top} y2={bottom} stroke="#bdbdbd" strokeWidth={1.2} />)}
        {p.yTicks.map(t => <line key={`gy${t}`} x1={p.left} x2={right} y1={y(t)} y2={y(t)} stroke="#bdbdbd" strokeWidth={1.2} />)}
        <path d={line(toPairs(p.lsKde)) || ''} fill="none" stroke={LS_LINE} strokeWidth={1.5} />
        <path d={line(toPairs(p.rwKde)) || ''} fill="none" stroke={RW_LINE} strokeWidth={1.5} />
      </g>
      <rect x={p.left} y={p.top} width={p.w} height={p.h} fill="none" stroke="#111" strokeWidth={1} />
      {p.xTicks.map(t => (
        <g key={`tx${t}`}>
          <line x1={x(t)} x2={x(t)} y1={bottom} y2={bottom + 3.5} stroke="#111" strokeWidth={0.9} />
          <text x={x(t)} y={bottom + 15.5} textAnchor="middle" fontFamily={SANS} fontSize={tickFs} fill="#111">{t}</text>
        </g>
      ))}
      {p.yTicks.map(t => (
        <g key={`ty${t}`}>
          <line x1={p.left - 3.5} x2={p.left} y1={y(t)} y2={y(t)} stroke="#111" strokeWidth={0.9} />
          <text x={p.left - 6.5} y={y(t)} dy="0.36em" textAnchor="end" fontFamily={SANS} fontSize={tickFs} fill="#111">{yFmt(t)}</text>
        </g>
      ))}
      <text x={p.left + p.w / 2} y={bottom + 29.5} textAnchor="middle" fontFamily={SANS} fontSize={12} fill="#111">Packet Latency [ms]</text>
      <text transform={`translate(${yLabelX},${midY}) rotate(-90)`} textAnchor="middle" dy="0.36em" fontFamily={SANS} fontSize={12} fill="#111">Probability Density</text>

      <g>
        <rect x={legX} y={legY} width={legW} height={legH} rx={2.5} fill="#fff" fillOpacity={0.8} stroke="#d0d0d0" strokeWidth={0.9} />
        {seriesNames.map((name, i) => (
          <g key={name}>
            <rect x={legX + 4} y={legY + 5.5 + i * 14} width={21} height={7.5}
              fill={i === 0 ? LS_FILL : RW_FILL} fillOpacity={i === 0 ? 0.6 : 0.5} />
            <text x={legX + 33} y={legY + 9.3 + i * 14} dy="0.36em" fontFamily={SANS} fontSize={10} fill="#222">{name}</text>
          </g>
        ))}
      </g>

      {captions[idx].map((ln, i) => <CaptionLine key={i} text={ln} x={capCx} y={capY + CAP_LINE_OFFSETS[i]} />)}
    </g>
  );
}

export default function App() {
  return (
    <svg width={1369} height={582} style={{ position: 'absolute', left: 0, top: 0, background: '#fff' }}>
      <rect x={0} y={0} width={1369} height={582} fill="#fff" />
      {panels.map((p, i) => <Panel key={i} p={p} idx={i} />)}
    </svg>
  );
}
